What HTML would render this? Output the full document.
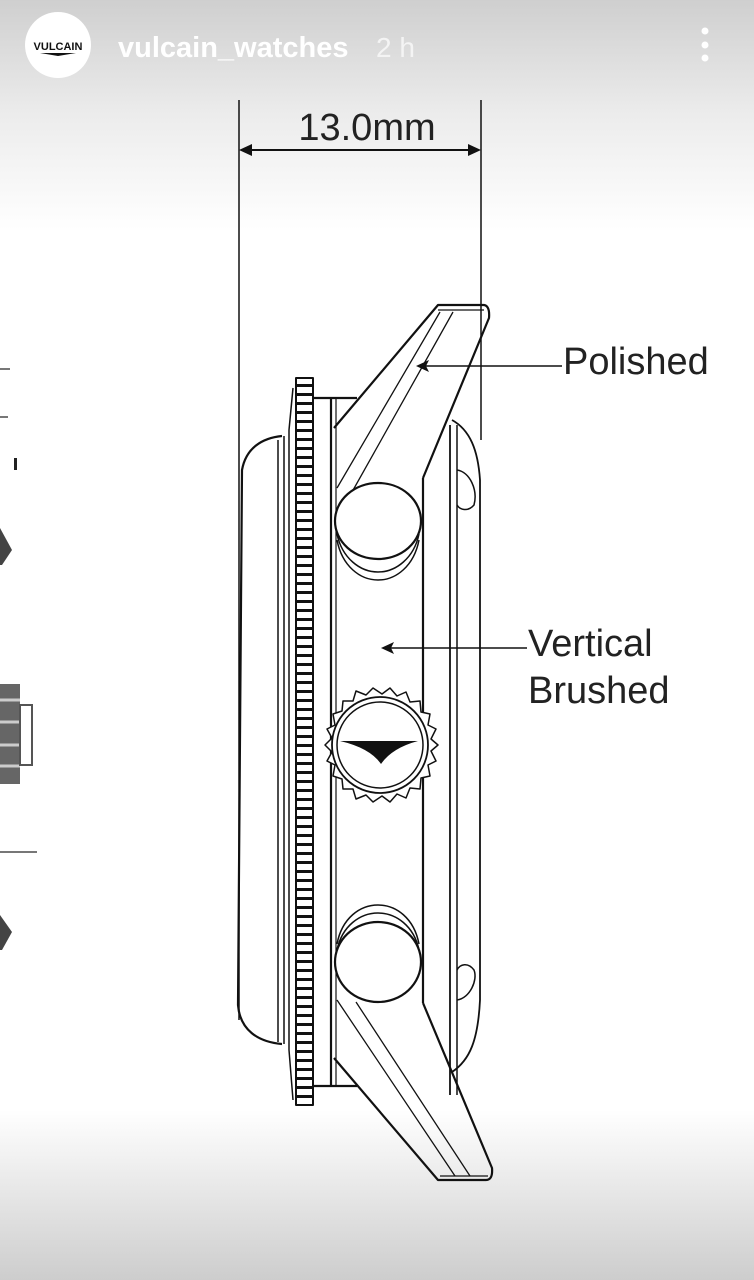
<!DOCTYPE html>
<html><head><meta charset="utf-8"><style>
html,body{margin:0;padding:0;width:754px;height:1280px;overflow:hidden;background:#fff}
svg{display:block}
</style></head><body>
<svg width="754" height="1280" viewBox="0 0 754 1280" xmlns="http://www.w3.org/2000/svg">
<defs>
<linearGradient id="tg" x1="0" y1="0" x2="0" y2="1"><stop offset="0" stop-color="#cfcfcf"/><stop offset="0.5" stop-color="#ececec"/><stop offset="1" stop-color="#fff"/></linearGradient>
<linearGradient id="bg" x1="0" y1="0" x2="0" y2="1"><stop offset="0" stop-color="#fff"/><stop offset="1" stop-color="#cdcdcd"/></linearGradient>
<pattern id="rib" x="0" y="0" width="20" height="9" patternUnits="userSpaceOnUse"><rect width="20" height="9" fill="#fff"/><rect y="6" width="20" height="3" fill="#111"/></pattern>
</defs>
<rect width="754" height="1280" fill="#fff"/>
<rect width="754" height="230" fill="url(#tg)"/>
<rect y="1110" width="754" height="170" fill="url(#bg)"/>

<g stroke="#111" fill="none" stroke-width="2">
<line x1="239" y1="100" x2="239" y2="1020" stroke-width="1.5"/>
<line x1="481" y1="100" x2="481" y2="440" stroke-width="1.5"/>
<line x1="245" y1="150" x2="475" y2="150" stroke-width="2"/>
</g>
<polygon points="239,150 252,144 252,156" fill="#111"/>
<polygon points="481,150 468,144 468,156" fill="#111"/>
<text x="367" y="140" text-anchor="middle" font-family="Liberation Sans, sans-serif" font-size="38" fill="#222">13.0mm</text>

<g stroke="#111" fill="none" stroke-width="2.2" stroke-linejoin="round">
<path d="M282,436 C262,438 246,448 242,470 L238,1005 C240,1030 258,1042 282,1044"/>
<line x1="278" y1="440" x2="278" y2="1042" stroke-width="1.5"/>
<line x1="284" y1="436" x2="284" y2="1044" stroke-width="1.5"/>
<path d="M293,388 L289,430 L289,1050 L293,1100" stroke-width="1.5"/>
<rect x="296" y="378" width="17" height="727" fill="url(#rib)" stroke-width="2"/>
<line x1="331" y1="398" x2="331" y2="1086"/>
<line x1="336" y1="398" x2="336" y2="1086" stroke-width="1.2"/>
<line x1="313" y1="398" x2="357" y2="398"/>
<line x1="313" y1="1086" x2="357" y2="1086"/>
<path d="M334,428 L438,305 L484,305 Q490,306 489,318 L423,478"/>
<line x1="438" y1="310" x2="484" y2="310" stroke-width="1.2"/>
<line x1="337" y1="488" x2="440" y2="312" stroke-width="1.3"/>
<line x1="352" y1="492" x2="453" y2="312" stroke-width="1.3"/>
<line x1="423" y1="478" x2="423" y2="1003"/>
<path d="M334,1058 L438,1180 L486,1180 Q493,1180 492,1168 L423,1003"/>
<line x1="440" y1="1176" x2="488" y2="1176" stroke-width="1.2"/>
<line x1="337" y1="1000" x2="455" y2="1176" stroke-width="1.3"/>
<line x1="356" y1="1002" x2="470" y2="1176" stroke-width="1.3"/>
<line x1="450" y1="425" x2="450" y2="1095" stroke-width="1.8"/>
<line x1="457" y1="425" x2="457" y2="1095" stroke-width="1.5"/>
<path d="M452,420 C470,430 478,450 480,480 L480,1000 C478,1040 470,1060 452,1072" stroke-width="1.8"/>
<path d="M457,470 C470,472 478,490 474,505 C468,512 460,510 457,505" stroke-width="1.5"/>
<path d="M457,1000 C470,998 478,980 474,970 C468,962 460,964 457,970" stroke-width="1.5"/>
<path d="M337,540 C342,566 360,580 378,580 C396,580 414,566 419,540" stroke-width="1.5"/>
<path d="M337,534 C342,558 360,572 378,572 C396,572 414,558 419,534" stroke-width="1.5"/>
<ellipse cx="378" cy="521" rx="43" ry="38" fill="#fff"/>
<path d="M337,944 C342,918 360,905 378,905 C396,905 414,918 419,944" stroke-width="1.5"/>
<path d="M337,950 C342,926 360,913 378,913 C396,913 414,926 419,950" stroke-width="1.5"/>
<ellipse cx="378" cy="962" rx="43" ry="40" fill="#fff"/>
<polygon fill="#fff" stroke-width="1.5" points="438,745 431,751 436,761 428,765 430,776 421,778 420,789 410,788 406,798 397,794 390,802 382,796 373,802 366,795 356,799 353,789 343,789 342,779 333,776 335,765 327,761 332,752 325,745 332,738 327,729 335,725 333,714 342,711 343,701 353,701 356,691 366,695 373,688 382,694 390,688 397,696 406,692 410,702 420,701 421,712 430,714 428,725 436,729 431,739"/>
<circle cx="380" cy="745" r="48" fill="#fff" stroke-width="1.8"/>
<circle cx="380" cy="745" r="43" stroke-width="1.5"/>
</g>
<path d="M340,741 L418,741 Q392,748 381,764 Q370,748 340,741 Z" fill="#111"/>

<g stroke="#111" stroke-width="1.6">
<line x1="425" y1="366" x2="562" y2="366"/>
<line x1="390" y1="648" x2="527" y2="648"/>
</g>
<polygon points="416,366 429,360 426,366 429,372" fill="#111"/>
<polygon points="381,648 394,642 391,648 394,654" fill="#111"/>
<g font-family="Liberation Sans, sans-serif" font-size="38" fill="#222">
<text x="563" y="374">Polished</text>
<text x="528" y="656">Vertical</text>
<text x="528" y="703">Brushed</text>
</g>

<g stroke="#777" stroke-width="2">
<line x1="0" y1="369" x2="10" y2="369"/>
<line x1="0" y1="417" x2="8" y2="417"/>
<line x1="0" y1="852" x2="37" y2="852"/>
</g>
<rect x="14" y="458" width="3" height="12" fill="#222"/>
<polygon points="0,528 12,550 2,565 0,565" fill="#444"/>
<polygon points="0,915 12,932 2,950 0,950" fill="#444"/>
<rect x="0" y="684" width="20" height="100" fill="#666"/>
<g stroke="#ccc" stroke-width="3"><line x1="0" y1="700" x2="20" y2="700"/><line x1="0" y1="722" x2="20" y2="722"/><line x1="0" y1="745" x2="20" y2="745"/><line x1="0" y1="766" x2="20" y2="766"/></g>
<rect x="20" y="705" width="12" height="60" fill="#fff" stroke="#555" stroke-width="2"/>

<circle cx="58" cy="45" r="33" fill="#fff"/>
<text x="58" y="50" text-anchor="middle" font-family="Liberation Sans, sans-serif" font-weight="bold" font-size="11" fill="#111">VULCAIN</text>
<path d="M40,53 L76,53 L58,56 Z" fill="#111"/>
<text x="118" y="57" font-family="Liberation Sans, sans-serif" font-weight="bold" font-size="29" fill="#fff">vulcain_watches</text>
<text x="376" y="57" font-family="Liberation Sans, sans-serif" font-size="28" fill="#f4f4f4">2 h</text>
<g fill="#fff"><circle cx="705" cy="31" r="3.5"/><circle cx="705" cy="45" r="3.5"/><circle cx="705" cy="58" r="3.5"/></g>
</svg>
</body></html>
